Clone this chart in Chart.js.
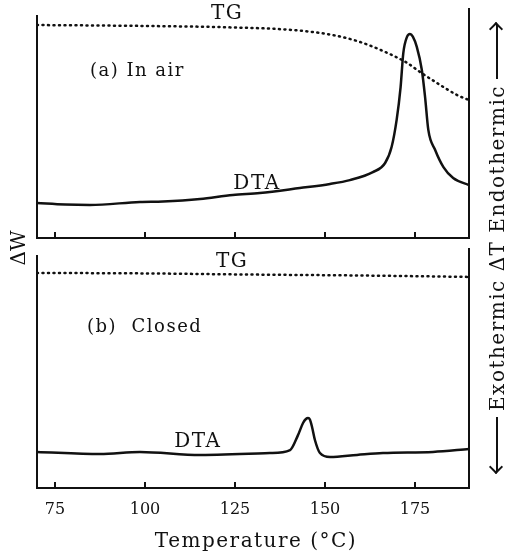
<!DOCTYPE html>
<html>
<head>
<meta charset="utf-8">
<script src="https://cdn.jsdelivr.net/npm/chart.js@4"></script>
<style>
  body { margin: 0; background: #fff; }
  #wrap { position: relative; width: 515px; height: 552px; font-family: "DejaVu Serif", serif; color: #111; }
  #topCanvasBox { position: absolute; left: 0; top: 0; width: 515px; height: 248px; }
  #botCanvasBox { position: absolute; left: 0; top: 248px; width: 515px; height: 304px; }
  .rot { position: absolute; transform: rotate(-90deg); display: flex; align-items: center; justify-content: center; white-space: nowrap; }
  #dwLabel { left: -7px; top: 236px; width: 50px; height: 24px; font-size: 20px; }
  #dtLabel { left: 267px; top: 236px; width: 460px; height: 24px; font-size: 20px; letter-spacing: 1.5px; }
  .arrow { position: relative; width: 56px; height: 2px; background: #111; margin: 0 6px; }
  .arrow::after { content: ""; position: absolute; top: -5px; width: 8px; height: 8px; border-top: 2px solid #111; border-left: 2px solid #111; }
  .arrow.left::after { left: 0; transform: rotate(-45deg); }
  .arrow.right::after { right: 0; transform: rotate(135deg); }
</style>
</head>
<body>
<div id="wrap">
  <div id="topCanvasBox"><canvas id="topChart" width="515" height="248"></canvas></div>
  <div id="botCanvasBox"><canvas id="botChart" width="515" height="304"></canvas></div>
  <div id="dwLabel" class="rot">ΔW</div>
  <div id="dtLabel" class="rot"><span class="arrow left"></span><span>Exothermic ΔT Endothermic</span><span class="arrow right"></span></div>
</div>
<script>
// ----- data (temperature in °C, signal in arbitrary units 0-100) -----
const xTicks = [75, 100, 125, 150, 175];
const xTitle = 'Temperature (°C)';

// (a) in air
const airTgT   = [70, 87.5, 105, 120.8, 141.1, 152.2, 159.7, 166.7, 172.8, 176.4, 181.1, 186.7, 190];
const airTg    = [93.4, 93.2, 92.9, 92.5, 91.2, 89.0, 86.0, 81.6, 76.8, 72.8, 68.0, 62.7, 60.5];
const airDtaT  = [70, 77.8, 84.7, 98.6, 105, 115.3, 124.4, 131.9, 143, 151.4, 156.9, 163.3, 166.7, 168.5, 169.9, 171.0, 171.75, 172.8, 173.6, 174.4, 175.5, 176.9, 177.8, 178.7, 180.6, 182.9, 185.6, 190];
const airDta   = [15.4, 14.7, 14.5, 15.8, 16.0, 17.1, 18.9, 19.7, 21.9, 23.7, 25.4, 28.9, 32.9, 39.9, 51.8, 66.2, 81.1, 88.3, 89.5, 88.3, 83.8, 73.7, 61.8, 47.4, 38.6, 31.1, 26.3, 23.2];

// (b) closed
const closedTgT  = [70, 100, 130, 160, 190];
const closedTg   = [92.3, 92.1, 91.6, 91.2, 90.6];
const closedDtaT = [70, 87.5, 98.6, 115.3, 134.7, 140.3, 142.5, 143.9, 144.7, 145.3, 145.8, 146.4, 147.2, 148.6, 151.4, 158.9, 166.1, 180, 190];
const closedDta  = [15.5, 14.6, 15.5, 14.2, 15.0, 16.3, 22.7, 27.9, 29.6, 30.0, 29.4, 26.2, 20.6, 15.0, 13.3, 14.2, 15.0, 15.5, 16.7];

const FONT = '"DejaVu Serif", serif';

function pts(xs, ys) {
    return xs.map((x, i) => ({ x: x, y: ys[i] }));
}

function tgSet(xs, ys) {
    return { label: 'TG', data: pts(xs, ys), borderColor: '#111', borderWidth: 2.5,
             borderDash: [1, 4.5], borderCapStyle: 'round', pointRadius: 0,
             cubicInterpolationMode: 'monotone' };
}
function dtaSet(xs, ys) {
    return { label: 'DTA', data: pts(xs, ys), borderColor: '#111', borderWidth: 2.5,
             pointRadius: 0, cubicInterpolationMode: 'monotone' };
}

// frame (left, bottom, right lines) with inward tick marks + panel texts
const framePlugin = {
    id: 'frame',
    beforeDraw(chart) {
        chart.ctx.letterSpacing = '0px';
    },
    afterDatasetsDraw(chart, args, opts) {
        const ctx = chart.ctx, a = chart.chartArea, x = chart.scales.x;
        ctx.save();
        ctx.strokeStyle = '#111';
        ctx.lineWidth = 2;
        ctx.beginPath();
        ctx.moveTo(a.left, a.top + opts.leftTop);
        ctx.lineTo(a.left, a.bottom);
        ctx.lineTo(a.right, a.bottom);
        ctx.lineTo(a.right, opts.rightTop);
        ctx.stroke();
        xTicks.forEach(t => {
            const px = x.getPixelForValue(t);
            ctx.beginPath();
            ctx.moveTo(px, a.bottom);
            ctx.lineTo(px, a.bottom - 6);
            ctx.stroke();
        });
        ctx.fillStyle = '#111';
        ctx.textBaseline = 'middle';
        ctx.letterSpacing = '1.5px';
        (opts.labels || []).forEach(l => {
            ctx.font = (l.size || 20) + 'px ' + FONT;
            ctx.textAlign = l.align || 'center';
            ctx.fillText(l.text, x.getPixelForValue(l.x), chart.scales.y.getPixelForValue(l.y));
        });
        if (opts.title) {
            ctx.font = '20px ' + FONT;
            ctx.textAlign = 'center';
            ctx.fillText(opts.title, (a.left + a.right) / 2 + 3, a.bottom + opts.titleGap);
        }
        ctx.restore();
    }
};

// ----- top panel: (a) in air -----
new Chart(document.getElementById('topChart'), {
    type: 'line',
    data: { datasets: [tgSet(airTgT, airTg), dtaSet(airDtaT, airDta)] },
    plugins: [framePlugin],
    options: {
        responsive: false, animation: false,
        layout: { padding: { top: 10, left: 37, right: 46, bottom: 10 } },
        plugins: {
            legend: { display: false }, tooltip: { enabled: false },
            frame: {
                leftTop: 5, rightTop: 8,
                labels: [
                    { text: 'TG', x: 122.8, y: 98.2 },
                    { text: '(a) In air', x: 84.7, y: 73.2, align: 'left', size: 18 },
                    { text: 'DTA', x: 131.1, y: 23.7 }
                ]
            }
        },
        scales: {
            x: { type: 'linear', min: 70, max: 190, display: false },
            y: { min: 0, max: 100, display: false }
        }
    }
});

// ----- bottom panel: (b) closed -----
new Chart(document.getElementById('botChart'), {
    type: 'line',
    data: { datasets: [tgSet(closedTgT, closedTg), dtaSet(closedDtaT, closedDta)] },
    plugins: [framePlugin],
    options: {
        responsive: false, animation: false,
        layout: { padding: { top: 7, left: 37, right: 46, bottom: 0 } },
        plugins: {
            legend: { display: false }, tooltip: { enabled: false },
            frame: {
                leftTop: 0, rightTop: 0,
                title: xTitle, titleGap: 54,
                labels: [
                    { text: 'TG', x: 124.2, y: 97.0 },
                    { text: '(b)  Closed', x: 83.9, y: 69.1, align: 'left', size: 18 },
                    { text: 'DTA', x: 114.7, y: 19.7 }
                ]
            }
        },
        scales: {
            x: {
                type: 'linear', min: 70, max: 190,
                afterBuildTicks: s => { s.ticks = xTicks.map(v => ({ value: v })); },
                afterFit: s => { s.height = 64; },
                grid: { display: false },
                border: { display: false },
                ticks: { color: '#111', padding: 4, font: { family: FONT, size: 16 } }
            },
            y: { min: 0, max: 100, display: false }
        }
    }
});
</script>
</body>
</html>
